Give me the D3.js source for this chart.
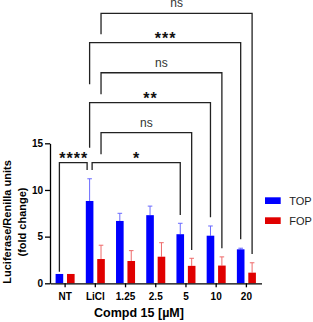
<!DOCTYPE html>
<html>
<head>
<meta charset="utf-8">
<script src="https://cdn.jsdelivr.net/npm/d3@7"></script>
<style>
  body { margin: 0; background: #fff; }
  svg { display: block; font-family: "Liberation Sans", Arial, sans-serif; }
</style>
</head>
<body>
<div id="chart"></div>
<script>
// groups on the x axis and the two reporters
var groups = ["NT", "LiCl", "1.25", "2.5", "5", "10", "20"];
var series = ["TOP", "FOP"];

// mean fold change and upper error (SD)
var topMean = [1.0, 8.82, 6.68, 7.3, 5.26, 5.1, 3.64];
var topErr  = [0, 2.38, 0.82, 0.97, 1.17, 1.04, 0.12];
var fopMean = [1.0, 2.6, 2.39, 2.85, 1.87, 1.9, 1.14];
var fopErr  = [0, 1.48, 1.11, 1.5, 0.81, 0.93, 1.06];

var yTicks = [0, 5, 10, 15];

// significance brackets: endpoints as [group, series], line level and leg ends in fold-change units
var bracketFrom  = [["NT","TOP"], ["LiCl","TOP"], ["LiCl","FOP"], ["LiCl","TOP"], ["LiCl","FOP"], ["LiCl","TOP"], ["LiCl","FOP"]];
var bracketTo    = [["LiCl","TOP"], ["5","TOP"], ["5","FOP"], ["10","TOP"], ["10","FOP"], ["20","TOP"], ["20","FOP"]];
var bracketText  = ["****", "*", "ns", "**", "ns", "***", "ns"];
var bracketLevel = [12.92, 12.92, 16.14, 19.35, 22.56, 25.78, 28.93];
var bracketLeftEnd  = [1.24, 12.14, 13.82, 14.53, 20.25, 21.32, 26.68];
var bracketRightEnd = [12.14, 7.32, 3.57, 7.07, 3.75, 4.71, 3.14];

var width = 313, height = 322;
var margin = {top: 143.3, right: 51.5, bottom: 38.7, left: 50};

var color = d3.scaleOrdinal().domain(series).range(["#0000ff", "#e00000"]);
var errColor = d3.scaleOrdinal().domain(series).range(["#6a6aff", "#ee6a6a"]);

var x0 = d3.scaleBand()
    .domain(groups)
    .range([margin.left, width - margin.right])
    .padding(0);

var x1 = d3.scaleBand()
    .domain(series)
    .range([0, x0.bandwidth()])
    .paddingInner(1/3)
    .paddingOuter(0.49);

var y = d3.scaleLinear()
    .domain([0, 15])
    .range([height - margin.bottom, margin.top]);

var rows = groups.map((g, i) => ({
    group: g,
    values: [
        {key: "TOP", mean: topMean[i], err: topErr[i]},
        {key: "FOP", mean: fopMean[i], err: fopErr[i]}
    ]
}));

var svg = d3.select("#chart").append("svg")
    .attr("width", width)
    .attr("height", height);

// bars
var g = svg.append("g")
    .selectAll("g")
    .data(rows)
    .join("g")
    .attr("transform", d => `translate(${x0(d.group)},0)`);

g.selectAll("line.err")
    .data(d => d.values.filter(v => v.err > 0))
    .join("line")
    .attr("class", "err")
    .attr("x1", d => x1(d.key) + x1.bandwidth() / 2)
    .attr("x2", d => x1(d.key) + x1.bandwidth() / 2)
    .attr("y1", d => y(d.mean))
    .attr("y2", d => y(d.mean + d.err))
    .attr("stroke", d => errColor(d.key))
    .attr("stroke-width", 1);

g.selectAll("line.cap")
    .data(d => d.values.filter(v => v.err > 0))
    .join("line")
    .attr("class", "cap")
    .attr("x1", d => x1(d.key) + x1.bandwidth() / 2 - 2.3)
    .attr("x2", d => x1(d.key) + x1.bandwidth() / 2 + 2.3)
    .attr("y1", d => y(d.mean + d.err))
    .attr("y2", d => y(d.mean + d.err))
    .attr("stroke", d => errColor(d.key))
    .attr("stroke-width", 1);

g.selectAll("rect")
    .data(d => d.values)
    .join("rect")
    .attr("x", d => x1(d.key))
    .attr("width", x1.bandwidth())
    .attr("y", d => y(d.mean))
    .attr("height", d => y(0) - y(d.mean))
    .attr("fill", d => color(d.key));

// axes
var yAxis = svg.append("g")
    .attr("transform", `translate(${margin.left},0)`)
    .call(d3.axisLeft(y).tickValues(yTicks).tickSize(5).tickSizeOuter(0).tickPadding(2));

var xAxis = svg.append("g")
    .attr("transform", `translate(0,${y(0)})`)
    .call(d3.axisBottom(x0).tickSize(4).tickSizeOuter(0).tickPadding(5.5));

[xAxis, yAxis].forEach(a => {
    a.selectAll("path, line").attr("stroke", "#000").attr("stroke-width", 1.3);
    a.selectAll("text")
        .attr("fill", "#000")
        .style("font-size", "10px")
        .style("font-weight", "bold")
        .style("font-family", "'Liberation Sans', Arial, sans-serif");
});

// axis titles
var yTitle = svg.append("g")
    .attr("transform", "translate(11,222) rotate(-90)")
    .attr("text-anchor", "middle")
    .style("font-size", "11px")
    .style("font-weight", "bold");
yTitle.append("text").attr("y", 0).text("Luciferase/Renilla units");
yTitle.append("text").attr("y", 15.3).text("(fold change)");

svg.append("text")
    .attr("x", 139)
    .attr("y", 316.7)
    .attr("text-anchor", "middle")
    .style("font-size", "12.5px")
    .style("font-weight", "bold")
    .text("Compd 15 [\u00b5M]");

// significance brackets
function barCenter(p) {
    return x0(p[0]) + x1(p[1]) + x1.bandwidth() / 2;
}

var br = svg.append("g");
bracketText.forEach((label, i) => {
    var xa = barCenter(bracketFrom[i]);
    var xb = barCenter(bracketTo[i]);
    // two brackets meeting on the same bar at the same level are nudged apart
    bracketText.forEach((_, j) => {
        if (j === i || bracketLevel[j] !== bracketLevel[i]) return;
        if (bracketTo[i].join() === bracketFrom[j].join()) xb -= 2.5;
        if (bracketFrom[i].join() === bracketTo[j].join()) xa += 2.5;
    });
    var yl = y(bracketLevel[i]);
    br.append("path")
        .attr("d", `M${xa},${y(bracketLeftEnd[i])}V${yl}H${xb}V${y(bracketRightEnd[i])}`)
        .attr("fill", "none")
        .attr("stroke", "#222")
        .attr("stroke-width", 1.3);

    var stars = label !== "ns";
    br.append("text")
        .attr("x", (xa + xb) / 2 + (stars ? 0.5 : 0))
        .attr("y", stars ? yl + 1 : yl - 6)
        .attr("text-anchor", "middle")
        .attr("fill", stars ? "#111" : "#333")
        .style("font-size", stars ? "16px" : "12px")
        .style("font-weight", stars ? "bold" : "normal")
        .style("letter-spacing", stars ? "1px" : null)
        .text(label);
});

// legend
var legend = svg.append("g")
    .selectAll("g")
    .data(series)
    .join("g")
    .attr("transform", (d, i) => `translate(265,${197.3 + i * 20})`);

legend.append("rect")
    .attr("width", 15.7)
    .attr("height", 6.7)
    .attr("fill", d => color(d));

legend.append("text")
    .attr("x", 24.3)
    .attr("y", 3.35)
    .attr("dy", "0.35em")
    .attr("fill", "#222")
    .style("font-size", "11px")
    .text(d => d);
</script>
</body>
</html>
